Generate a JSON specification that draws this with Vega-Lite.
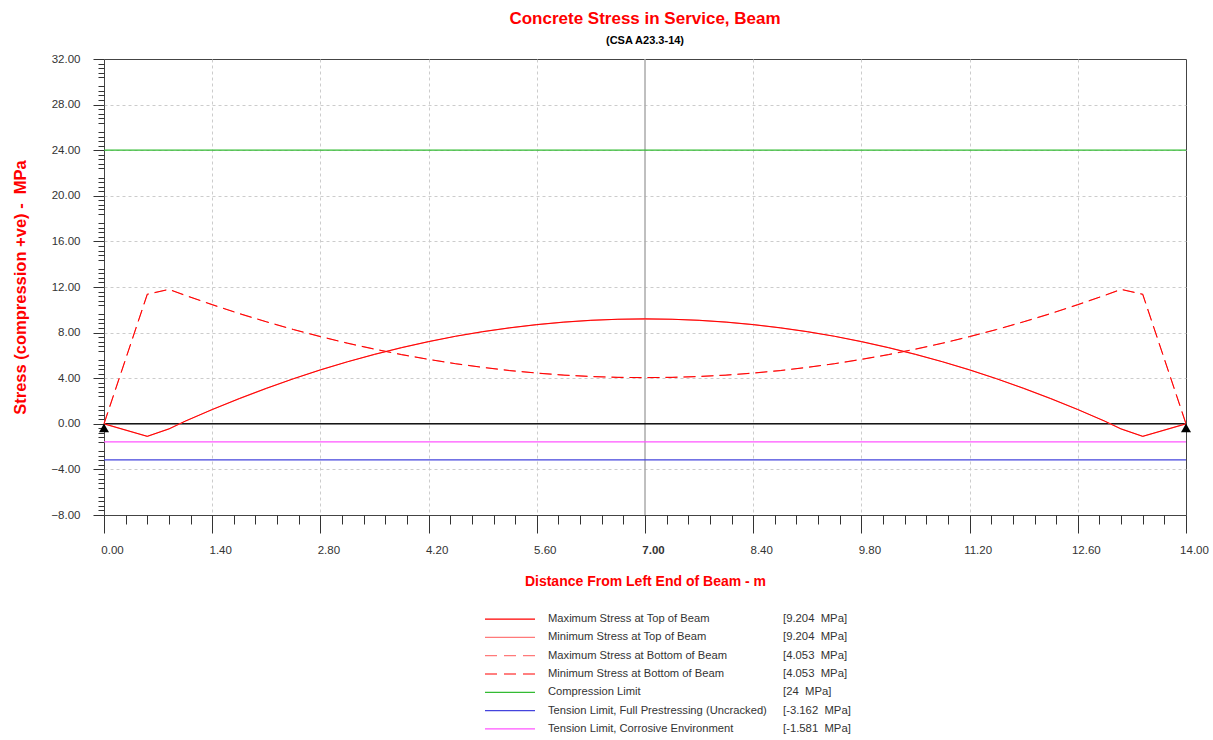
{
  "$schema": "https://vega.github.io/schema/vega-lite/v6.json",
  "background": "white",
  "padding": {"left": 12, "top": 9, "right": 5, "bottom": 2},
  "config": {
    "font": "Liberation Sans, Arial",
    "view": {"stroke": null}
  },
  "datasets": {
    "curves": [
      {"x": 0, "top": 0, "bot": 0},
      {"x": 0.56, "top": -1.1, "bot": 11.36},
      {"x": 0.84, "top": -0.45, "bot": 11.79},
      {"x": 1.05, "top": 0.23, "bot": 11.27},
      {"x": 1.4, "top": 1.25, "bot": 10.45},
      {"x": 1.75, "top": 2.21, "bot": 9.67},
      {"x": 2.1, "top": 3.11, "bot": 8.95},
      {"x": 2.45, "top": 3.95, "bot": 8.27},
      {"x": 2.8, "top": 4.73, "bot": 7.65},
      {"x": 3.15, "top": 5.44, "bot": 7.07},
      {"x": 3.5, "top": 6.09, "bot": 6.55},
      {"x": 3.85, "top": 6.68, "bot": 6.07},
      {"x": 4.2, "top": 7.21, "bot": 5.65},
      {"x": 4.55, "top": 7.68, "bot": 5.27},
      {"x": 4.9, "top": 8.08, "bot": 4.95},
      {"x": 5.25, "top": 8.42, "bot": 4.67},
      {"x": 5.6, "top": 8.7, "bot": 4.45},
      {"x": 5.95, "top": 8.92, "bot": 4.27},
      {"x": 6.3, "top": 9.08, "bot": 4.15},
      {"x": 6.65, "top": 9.17, "bot": 4.07},
      {"x": 7.0, "top": 9.204, "bot": 4.053},
      {"x": 7.35, "top": 9.17, "bot": 4.07},
      {"x": 7.7, "top": 9.08, "bot": 4.15},
      {"x": 8.05, "top": 8.92, "bot": 4.27},
      {"x": 8.4, "top": 8.7, "bot": 4.45},
      {"x": 8.75, "top": 8.42, "bot": 4.67},
      {"x": 9.1, "top": 8.08, "bot": 4.95},
      {"x": 9.45, "top": 7.68, "bot": 5.27},
      {"x": 9.8, "top": 7.21, "bot": 5.65},
      {"x": 10.15, "top": 6.68, "bot": 6.07},
      {"x": 10.5, "top": 6.09, "bot": 6.55},
      {"x": 10.85, "top": 5.44, "bot": 7.07},
      {"x": 11.2, "top": 4.73, "bot": 7.65},
      {"x": 11.55, "top": 3.95, "bot": 8.27},
      {"x": 11.9, "top": 3.11, "bot": 8.95},
      {"x": 12.25, "top": 2.21, "bot": 9.67},
      {"x": 12.6, "top": 1.25, "bot": 10.45},
      {"x": 12.95, "top": 0.23, "bot": 11.27},
      {"x": 13.16, "top": -0.45, "bot": 11.79},
      {"x": 13.44, "top": -1.1, "bot": 11.36},
      {"x": 14, "top": 0, "bot": 0}
    ],
    "limits": [
      {"name": "Compression Limit", "value": 24},
      {"name": "Tension Limit, Full Prestressing (Uncracked)", "value": -3.162},
      {"name": "Tension Limit, Corrosive Environment", "value": -1.581}
    ],
    "supports": [{"x": 0}, {"x": 14}],
    "legend": [
      {"name": "Maximum Stress at Top of Beam", "val": "[9.204\u00a0 MPa]"},
      {"name": "Minimum Stress at Top of Beam", "val": "[9.204\u00a0 MPa]"},
      {"name": "Maximum Stress at Bottom of Beam", "val": "[4.053\u00a0 MPa]"},
      {"name": "Minimum Stress at Bottom of Beam", "val": "[4.053\u00a0 MPa]"},
      {"name": "Compression Limit", "val": "[24\u00a0 MPa]"},
      {"name": "Tension Limit, Full Prestressing (Uncracked)", "val": "[-3.162\u00a0 MPa]"},
      {"name": "Tension Limit, Corrosive Environment", "val": "[-1.581\u00a0 MPa]"}
    ]
  },
  "spacing": 21,
  "vconcat": [
    {
      "width": 1082,
      "height": 456,
      "view": {"stroke": "#444", "strokeWidth": 1},
      "title": {
        "text": "Concrete Stress in Service, Beam",
        "subtitle": "(CSA A23.3-14)",
        "color": "#ff0000",
        "fontSize": 17,
        "fontWeight": "bold",
        "subtitleColor": "#000000",
        "subtitleFontSize": 11,
        "subtitleFontWeight": "bold",
        "subtitlePadding": 7,
        "anchor": "middle",
        "frame": "group",
        "offset": 6
      },
      "resolve": {"axis": {"x": "independent", "y": "independent"}},
      "layer": [
        {
          "data": {"name": "supports"},
          "mark": {"type": "rule", "color": "#aaaaaa", "strokeWidth": 1},
          "encoding": {
            "x": {
              "datum": 7, "type": "quantitative",
              "scale": {"domain": [0, 14], "nice": false, "zero": false},
              "axis": {
                "orient": "bottom",
                "values": [1.4, 2.8, 4.2, 5.6, 8.4, 9.8, 11.2, 12.6],
                "labels": false, "ticks": false, "domain": false, "title": null,
                "grid": true, "gridDash": [3, 3], "gridColor": "#cccccc"
              }
            },
            "y": {
              "datum": -8, "type": "quantitative",
              "scale": {"domain": [-8, 32], "nice": false, "zero": false},
              "axis": {
                "orient": "left",
                "values": [-4, 4, 8, 12, 16, 20, 24, 28],
                "labels": false, "ticks": false, "domain": false, "title": null,
                "grid": true, "gridDash": [3, 3], "gridColor": "#cccccc"
              }
            },
            "y2": {"datum": 32}
          }
        },
        {
          "data": {"name": "limits"},
          "mark": {"type": "rule", "strokeWidth": 1.2},
          "encoding": {
            "x": {
              "datum": 0, "type": "quantitative",
              "axis": {
                "orient": "bottom",
                "values": [0.28,0.56,0.84,1.12,1.68,1.96,2.24,2.52,3.08,3.36,3.64,3.92,4.48,4.76,5.04,5.32,5.88,6.16,6.44,6.72,7.28,7.56,7.84,8.12,8.68,8.96,9.24,9.52,10.08,10.36,10.64,10.92,11.48,11.76,12.04,12.32,12.88,13.16,13.44,13.72],
                "labels": false, "grid": false, "domain": false,
                "tickSize": 9, "tickColor": "#333333", "title": null
              }
            },
            "x2": {"datum": 14},
            "y": {
              "field": "value", "type": "quantitative",
              "axis": {
                "orient": "left",
                "values": [-7.6,-7.2,-6.8,-6.4,-5.6,-5.2,-4.8,-4.4,-3.6,-3.2,-2.8,-2.4,-1.6,-1.2,-0.8,-0.4,0.4,0.8,1.2,1.6,2.4,2.8,3.2,3.6,4.4,4.8,5.2,5.6,6.4,6.8,7.2,7.6,8.4,8.8,9.2,9.6,10.4,10.8,11.2,11.6,12.4,12.8,13.2,13.6,14.4,14.8,15.2,15.6,16.4,16.8,17.2,17.6,18.4,18.8,19.2,19.6,20.4,20.8,21.2,21.6,22.4,22.8,23.2,23.6,24.4,24.8,25.2,25.6,26.4,26.8,27.2,27.6,28.4,28.8,29.2,29.6,30.4,30.8,31.2,31.6],
                "labels": false, "grid": false, "domain": false,
                "tickSize": 6, "tickColor": "#333333", "title": null
              }
            },
            "color": {
              "field": "name", "type": "nominal", "legend": null,
              "scale": {
                "domain": ["Maximum Stress at Top of Beam", "Minimum Stress at Top of Beam", "Maximum Stress at Bottom of Beam", "Minimum Stress at Bottom of Beam", "Compression Limit", "Tension Limit, Full Prestressing (Uncracked)", "Tension Limit, Corrosive Environment"],
                "range": ["#ff0000", "#ff7a7a", "#ff7a7a", "#ff0000", "#33bb33", "#4444dd", "#ff55ff"]
              }
            }
          }
        },
        {
          "data": {"name": "supports"},
          "mark": {"type": "rule", "color": "#000000", "strokeWidth": 1},
          "encoding": {
            "x": {"datum": 0, "type": "quantitative", "axis": null},
            "x2": {"datum": 14},
            "y": {"datum": 0, "type": "quantitative", "axis": null}
          }
        },
        {
          "data": {"name": "curves"},
          "mark": {"type": "line", "strokeWidth": 1.2, "color": "#ff7a7a"},
          "encoding": {
            "x": {
              "field": "x", "type": "quantitative",
              "axis": {
                "orient": "bottom",
                "values": [0, 1.4, 2.8, 4.2, 5.6, 7, 8.4, 9.8, 11.2, 12.6, 14],
                "format": ".2f",
                "domain": false,
                "tickSize": 18, "tickColor": "#333333",
                "grid": false,
                "labelFlush": false,
                "labelOffset": 8,
                "labelPadding": 11,
                "labelFontSize": 11.5,
                "labelColor": "#333333",
                "labelFontWeight": {"condition": {"test": "datum.value == 7", "value": "bold"}, "value": "normal"},
                "title": "Distance From Left End of Beam - m",
                "titleColor": "#ff0000",
                "titleFontSize": 14,
                "titleFontWeight": "bold",
                "titlePadding": 19
              }
            },
            "y": {
              "field": "top", "type": "quantitative",
              "axis": {
                "orient": "left",
                "values": [-8, -4, 0, 4, 8, 12, 16, 20, 24, 28, 32],
                "format": ".2f",
                "domain": false,
                "tickSize": 11, "tickColor": "#333333",
                "grid": false,
                "labelPadding": 13,
                "labelFontSize": 11.5,
                "labelColor": "#333333",
                "title": "Stress (compression +ve) -\u00a0 MPa",
                "titleColor": "#ff0000",
                "titleFontSize": 16.5,
                "titleFontWeight": "bold",
                "titlePadding": 22
              }
            }
          }
        },
        {
          "data": {"name": "curves"},
          "mark": {"type": "line", "strokeWidth": 1, "color": "#ff0000"},
          "encoding": {
            "x": {"field": "x", "type": "quantitative", "axis": null},
            "y": {"field": "top", "type": "quantitative", "axis": null}
          }
        },
        {
          "data": {"name": "curves"},
          "mark": {"type": "line", "strokeWidth": 1.2, "color": "#ff7a7a", "strokeDash": [12, 6]},
          "encoding": {
            "x": {"field": "x", "type": "quantitative", "axis": null},
            "y": {"field": "bot", "type": "quantitative", "axis": null}
          }
        },
        {
          "data": {"name": "curves"},
          "mark": {"type": "line", "strokeWidth": 1, "color": "#ff0000", "strokeDash": [12, 6]},
          "encoding": {
            "x": {"field": "x", "type": "quantitative", "axis": null},
            "y": {"field": "bot", "type": "quantitative", "axis": null}
          }
        },
        {
          "data": {"name": "supports"},
          "mark": {"type": "point", "shape": "triangle-up", "filled": true, "color": "#000000", "size": 100, "opacity": 1, "yOffset": 4},
          "encoding": {
            "x": {"field": "x", "type": "quantitative", "axis": null},
            "y": {"datum": 0, "type": "quantitative", "axis": null}
          }
        }
      ]
    },
    {
      "width": 1082,
      "height": 128,
      "data": {"name": "legend"},
      "encoding": {
        "y": {"field": "name", "type": "nominal", "sort": null, "scale": {"type": "point", "padding": 0.5}, "axis": null}
      },
      "layer": [
        {
          "mark": {"type": "rule", "strokeWidth": 1.2},
          "encoding": {
            "x": {"datum": 381, "type": "quantitative", "scale": {"domain": [0, 1082], "nice": false}, "axis": null},
            "x2": {"datum": 431},
            "color": {
              "field": "name", "type": "nominal", "legend": null,
              "scale": {
                "domain": ["Maximum Stress at Top of Beam", "Minimum Stress at Top of Beam", "Maximum Stress at Bottom of Beam", "Minimum Stress at Bottom of Beam", "Compression Limit", "Tension Limit, Full Prestressing (Uncracked)", "Tension Limit, Corrosive Environment"],
                "range": ["#ff0000", "#ff7a7a", "#ff7a7a", "#ff0000", "#33bb33", "#4444dd", "#ff55ff"]
              }
            },
            "strokeDash": {
              "field": "name", "type": "nominal", "legend": null,
              "scale": {
                "domain": ["Maximum Stress at Top of Beam", "Minimum Stress at Top of Beam", "Maximum Stress at Bottom of Beam", "Minimum Stress at Bottom of Beam", "Compression Limit", "Tension Limit, Full Prestressing (Uncracked)", "Tension Limit, Corrosive Environment"],
                "range": [[1, 0], [1, 0], [12, 7], [12, 7], [1, 0], [1, 0], [1, 0]]
              }
            }
          }
        },
        {
          "mark": {"type": "text", "align": "left", "baseline": "middle", "fontSize": 11.2, "color": "#333333"},
          "encoding": {
            "x": {"datum": 444, "type": "quantitative", "axis": null},
            "text": {"field": "name"}
          }
        },
        {
          "mark": {"type": "text", "align": "left", "baseline": "middle", "fontSize": 11.3, "color": "#333333"},
          "encoding": {
            "x": {"datum": 679, "type": "quantitative", "axis": null},
            "text": {"field": "val"}
          }
        }
      ]
    }
  ]
}
